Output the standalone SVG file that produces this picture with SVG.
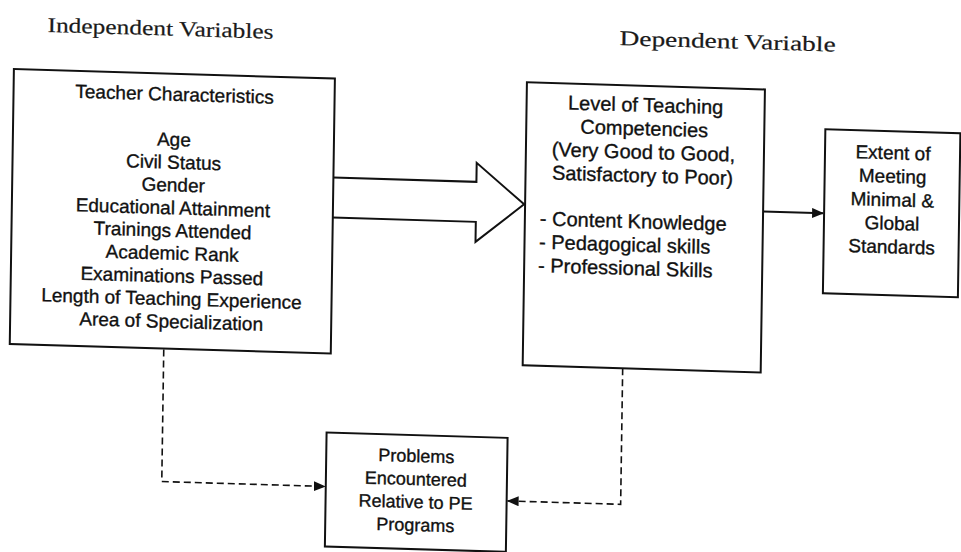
<svg xmlns="http://www.w3.org/2000/svg" width="961" height="552" viewBox="0 0 961 552">
  <style>
    .box { fill: #ffffff; stroke: #111111; stroke-width: 2; }
    .head { font-family: "Liberation Serif", "Times New Roman", serif; font-size: 21px; fill: #1a1a1a; stroke: #1a1a1a; stroke-width: 0.2; }
    .sans { font-family: "Liberation Sans", Arial, sans-serif; fill: #111111; stroke: #111111; stroke-width: 0.35; }
    .t { font-size: 19px; text-anchor: middle; }
    .tm { font-size: 20px; text-anchor: middle; }
    .tl { font-size: 20px; }
    .tb { font-size: 18px; text-anchor: middle; }
    .solid { fill: none; stroke: #111111; stroke-width: 2; }
    .dash { fill: none; stroke: #111111; stroke-width: 1.6; stroke-dasharray: 7 4; }
  </style>
  <defs>
    <marker id="tri" viewBox="0 0 12 10" refX="11" refY="5" markerWidth="12" markerHeight="10" markerUnits="userSpaceOnUse" orient="auto">
      <path d="M0,0 L12,5 L0,10 Z" fill="#111111"/>
    </marker>
  </defs>
  <rect width="961" height="552" fill="#ffffff"/>

  <!-- whole page sits slightly skewed -->
  <g transform="matrix(1,0.03,-0.015,1,4.14,-14.4)">
    <text class="head" x="44" y="45" textLength="226" lengthAdjust="spacingAndGlyphs">Independent Variables</text>
    <text class="head" x="616" y="41" textLength="216" lengthAdjust="spacingAndGlyphs">Dependent Variable</text>

    <g id="connectors">
      <!-- block arrow from independent to dependent -->
      <path class="solid" d="M332,182 L475,182 L475,163 L523,203 L475,242 L475,222 L332,222"/>
      <!-- dependent to standards -->
      <path class="solid" d="M762,203 L822,203" marker-end="url(#tri)"/>
      <!-- dashed links to problems box -->
      <path class="dash" d="M165,359 L165,491 L328,491" marker-end="url(#tri)"/>
      <path class="dash" d="M624,364 L624,500 L511,500" marker-end="url(#tri)"/>
    </g>

    <g id="teacher" class="sans">
      <rect class="box" x="11" y="83" width="321" height="275"/>
      <text class="t" x="172" y="110">Teacher Characteristics</text>
      <text class="t" x="172" y="155.2">Age</text>
      <text class="t" x="172" y="178">Civil Status</text>
      <text class="t" x="172" y="200.7">Gender</text>
      <text class="t" x="172" y="223.5">Educational Attainment</text>
      <text class="t" x="172" y="246.2">Trainings Attended</text>
      <text class="t" x="172" y="269">Academic Rank</text>
      <text class="t" x="172" y="291.7">Examinations Passed</text>
      <text class="t" x="172" y="314.5">Length of Teaching Experience</text>
      <text class="t" x="172" y="337.2">Area of Specialization</text>
    </g>

    <g id="competencies" class="sans">
      <rect class="box" x="524" y="81" width="238" height="283"/>
      <text class="tm" x="643" y="107">Level of Teaching</text>
      <text class="tm" x="642" y="130.5">Competencies</text>
      <text class="tm" x="641.5" y="154">(Very Good to Good,</text>
      <text class="tm" x="641" y="177.5">Satisfactory to Poor)</text>
      <text class="tl" x="539" y="223.5">- Content Knowledge</text>
      <text class="tl" x="538.6" y="247">- Pedagogical skills</text>
      <text class="tl" x="538" y="270.5">- Professional Skills</text>
    </g>

    <g id="standards" class="sans">
      <rect class="box" x="823" y="119" width="135" height="164"/>
      <text class="t" x="891" y="147">Extent of</text>
      <text class="t" x="891" y="170.5">Meeting</text>
      <text class="t" x="891" y="194">Minimal &amp;</text>
      <text class="t" x="891" y="217.5">Global</text>
      <text class="t" x="891" y="241">Standards</text>
    </g>

    <g id="problems" class="sans">
      <rect class="box" x="329" y="437" width="181" height="114"/>
      <text class="tb" x="419" y="464">Problems</text>
      <text class="tb" x="419" y="487">Encountered</text>
      <text class="tb" x="419" y="510">Relative to PE</text>
      <text class="tb" x="419" y="533">Programs</text>
    </g>
  </g>
</svg>
